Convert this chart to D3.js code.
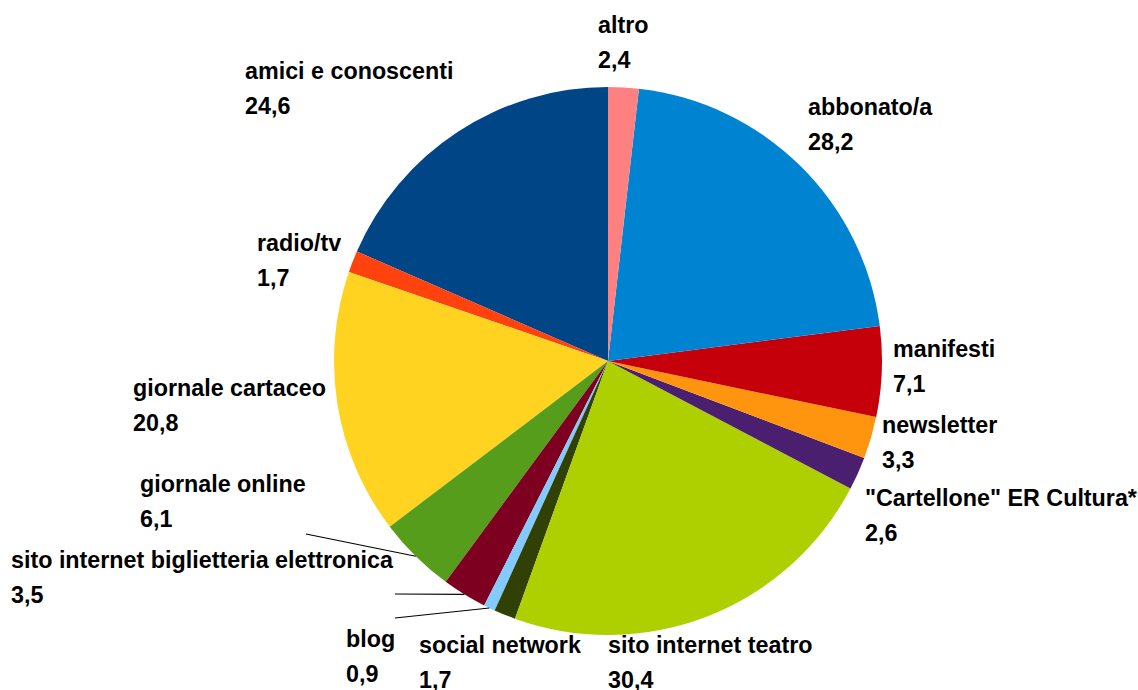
<!DOCTYPE html>
<html lang="it">
<head>
<meta charset="utf-8">
<title>Canali di informazione</title>
<script src="https://d3js.org/d3.v7.min.js"></script>
<style>
  html, body { margin: 0; padding: 0; background: #fff; }
  svg text {
    font-family: "Liberation Sans Narrow", "Arial Narrow", "Liberation Sans", Arial, sans-serif;
    font-weight: bold;
    font-size: 23.3px;
    fill: #000;
  }
</style>
</head>
<body>
<svg width="1138" height="690"></svg>
<script>
// data, in the order the slices run counter-clockwise from 12 o'clock
var categories = ["amici e conoscenti", "radio/tv", "giornale cartaceo", "giornale online",
  "sito internet biglietteria elettronica", "blog", "social network", "sito internet teatro",
  "\"Cartellone\" ER Cultura*", "newsletter", "manifesti", "abbonato/a", "altro"];
var values = [24.6, 1.7, 20.8, 6.1, 3.5, 0.9, 1.7, 30.4, 2.6, 3.3, 7.1, 28.2, 2.4];
var colors = ["#004586", "#ff420e", "#ffd320", "#579d1c", "#7e0021", "#83caff", "#314004",
  "#aecf00", "#4b1f6f", "#ff950e", "#c5000b", "#0084d1", "#ff8080"];

// label placement (left x, baseline of first line) and optional leader end
var labelPos = [[245, 79], [257, 251], [133, 396], [140, 492], [11, 568], [346, 647],
  [419, 653], [608, 653], [865, 506], [882, 433], [893, 357], [808, 115], [598, 33]];
var leaderEnd = {3: [306, 534], 4: [395, 594], 5: [395, 618]};

var svg = d3.select("svg"),
    cx = 608, cy = 361, radius = 274;

var it = d3.formatLocale({decimal: ",", thousands: ".", grouping: [3], currency: ["", " €"]});
var fmt = it.format(".1f");

var pie = d3.pie()
    .sort(null)
    .value(function(d) { return d; })
    .startAngle(0)
    .endAngle(-2 * Math.PI);

var arc = d3.arc().innerRadius(0).outerRadius(radius);

var arcs = pie(values);

var g = svg.append("g").attr("transform", "translate(" + cx + "," + cy + ")");

g.selectAll("path")
  .data(arcs)
  .enter().append("path")
    .attr("fill", function(d, i) { return colors[i]; })
    .attr("d", arc);

// leader lines for the thin slices on the lower left
Object.keys(leaderEnd).forEach(function(k) {
  var d = arcs[+k],
      a = (d.startAngle + d.endAngle) / 2,
      x0 = cx + radius * Math.sin(a),
      y0 = cy - radius * Math.cos(a),
      e = leaderEnd[k];
  svg.append("line")
    .attr("x1", x0).attr("y1", y0)
    .attr("x2", e[0]).attr("y2", e[1])
    .attr("stroke", "#000")
    .attr("stroke-width", 1.2);
});

var labels = svg.append("g").selectAll("text")
  .data(categories)
  .enter().append("text")
    .attr("x", function(d, i) { return labelPos[i][0]; })
    .attr("y", function(d, i) { return labelPos[i][1]; });

labels.append("tspan").text(function(d) { return d; });
labels.append("tspan")
    .attr("x", function(d, i) { return labelPos[i][0]; })
    .attr("dy", 35)
    .text(function(d, i) { return fmt(values[i]); });
</script>
</body>
</html>
